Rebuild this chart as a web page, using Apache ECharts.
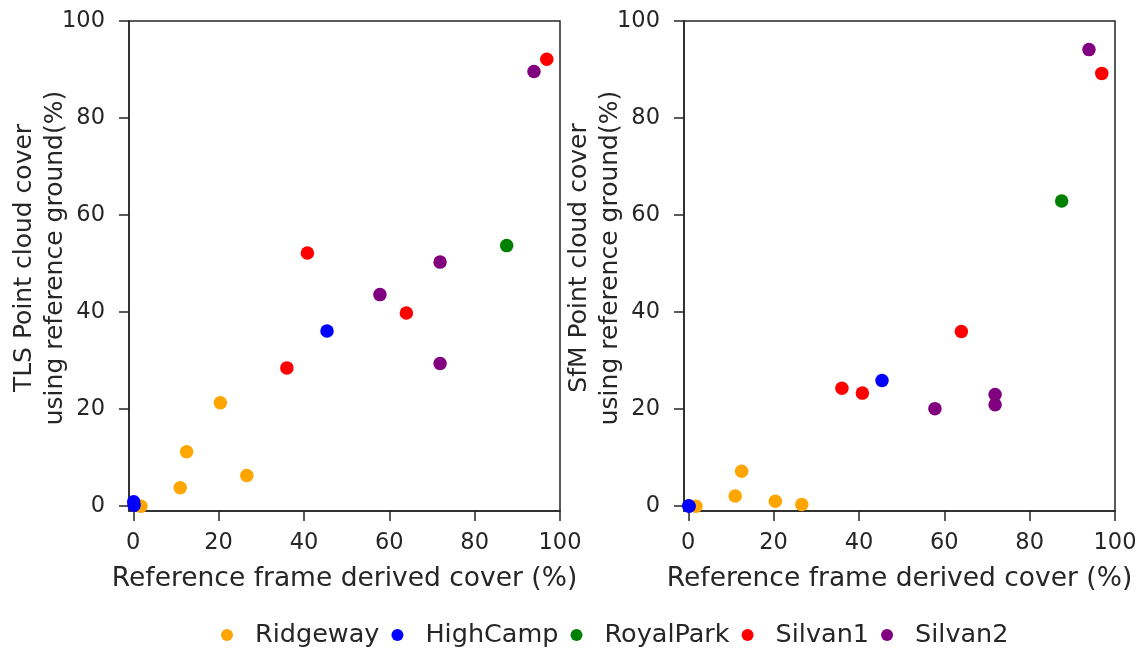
<!DOCTYPE html>
<html>
<head>
<meta charset="utf-8">
<script src="https://cdn.jsdelivr.net/npm/echarts@6.0.0/dist/echarts.min.js"></script>
<style>
  html, body { margin: 0; padding: 0; background: #fff; }
  #chart { width: 1143px; height: 651px; }
</style>
</head>
<body>
<div id="chart"></div>
<script>
// site names and colours
var sites = ["Ridgeway", "HighCamp", "RoyalPark", "Silvan1", "Silvan2"];
var siteColors = ["#FFA500", "#0000FF", "#008000", "#FF0000", "#800080"];

// reference frame derived cover (%), x on both panels
var ridgewayRef = [1.8, 11.0, 12.5, 20.4, 26.6];
var highcampRef = [0.1, 0.2, 45.4];
var royalparkRef = [87.5];
var silvan1Ref = [36.0, 40.8, 64.0, 96.9];
var silvan2Ref = [57.8, 71.9, 71.9, 93.9];

// TLS point cloud cover (%)
var ridgewayTLS = [0.0, 3.8, 11.2, 21.3, 6.3];
var highcampTLS = [0.9, 0.2, 36.1];
var royalparkTLS = [53.7];
var silvan1TLS = [28.5, 52.2, 39.8, 92.1];
var silvan2TLS = [43.6, 50.3, 29.4, 89.6];

// SfM point cloud cover (%)
var ridgewaySfM = [0.0, 2.1, 7.2, 1.0, 0.35];
var highcampSfM = [0.1, 0.0, 25.9];
var royalparkSfM = [62.9];
var silvan1SfM = [24.3, 23.3, 36.0, 89.2];
var silvan2SfM = [20.1, 23.0, 20.9, 94.1];

var ticks = [0, 20, 40, 60, 80, 100];

var refCols = [ridgewayRef, highcampRef, royalparkRef, silvan1Ref, silvan2Ref];
var tlsCols = [ridgewayTLS, highcampTLS, royalparkTLS, silvan1TLS, silvan2TLS];
var sfmCols = [ridgewaySfM, highcampSfM, royalparkSfM, silvan1SfM, silvan2SfM];

var ink = "#262626";
var font = "DejaVu Sans";

function pairs(xs, ys) {
    var out = [];
    for (var i = 0; i < xs.length; i++) out.push([xs[i], ys[i]]);
    return out;
}

function makeX(idx) {
    return {
        type: "value", gridIndex: idx, min: -1, max: 100,
        name: "Reference frame derived cover (%)",
        nameLocation: "middle", nameGap: 55,
        nameTextStyle: { color: ink, fontSize: 26.5, fontFamily: font },
        splitLine: { show: false },
        axisLine: { onZero: false, lineStyle: { color: ink, width: 1.5 } },
        axisTick: { length: 10, customValues: ticks, lineStyle: { color: ink, width: 1.5 } },
        axisLabel: { customValues: ticks, margin: 21, color: ink, fontSize: 22.5, fontFamily: font }
    };
}

function makeY(idx, title) {
    return {
        type: "value", gridIndex: idx, min: -1, max: 100,
        name: title,
        nameLocation: "middle", nameGap: 58, nameRotate: 90, nameMoveOverlap: false,
        nameTextStyle: { color: ink, fontSize: 25, fontFamily: font, lineHeight: 31, padding: [0, 0, 0, 16] },
        splitLine: { show: false },
        axisLine: { onZero: false, lineStyle: { color: ink, width: 1.5 } },
        axisTick: { length: 10, customValues: ticks, lineStyle: { color: ink, width: 1.5 } },
        axisLabel: { customValues: ticks, margin: 24, color: ink, fontSize: 22.5, fontFamily: font }
    };
}

var series = [];
[tlsCols, sfmCols].forEach(function (cols, g) {
    sites.forEach(function (name, i) {
        series.push({
            name: name,
            type: "scatter",
            xAxisIndex: g,
            yAxisIndex: g,
            symbolSize: 13.5,
            clip: false,
            itemStyle: { color: siteColors[i], opacity: 1 },
            data: pairs(refCols[i], cols[i])
        });
    });
});

var myChart = echarts.init(document.getElementById("chart"));
var option = {
    animation: false,
    backgroundColor: "#fff",
    textStyle: { fontFamily: font },
    grid: [
        { left: 129, top: 21, width: 431, height: 490, outerBoundsMode: "none", show: true, borderColor: ink, borderWidth: 1.5 },
        { left: 684, top: 21, width: 431, height: 490, outerBoundsMode: "none", show: true, borderColor: ink, borderWidth: 1.5 }
    ],
    xAxis: [makeX(0), makeX(1)],
    yAxis: [
        makeY(0, "TLS Point cloud cover\nusing reference ground(%)"),
        makeY(1, "SfM Point cloud cover\nusing reference ground(%)")
    ],
    legend: {
        data: sites,
        left: 216,
        top: 617,
        icon: "circle",
        itemWidth: 12,
        itemHeight: 12,
        itemGap: 12,
        textStyle: { color: ink, fontSize: 25.5, fontFamily: font, padding: [0, 0, 0, 17] }
    },
    series: series
};
myChart.setOption(option);
</script>
</body>
</html>
